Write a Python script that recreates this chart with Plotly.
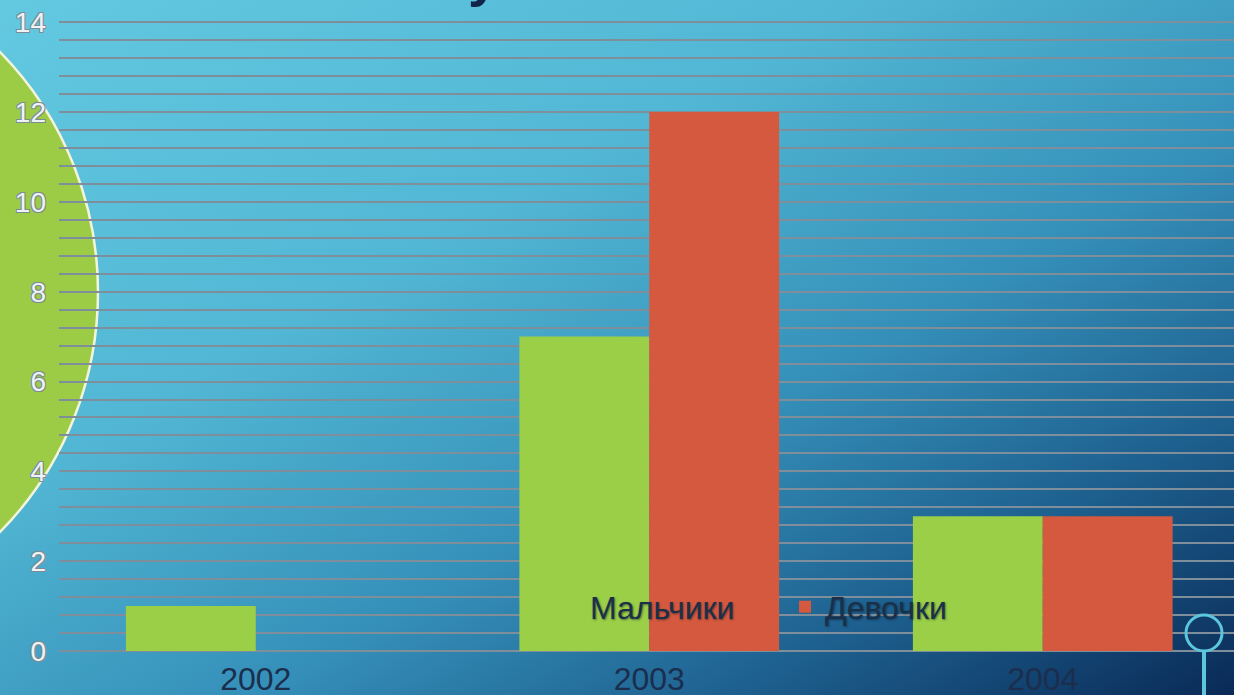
import base64
import plotly.graph_objects as go

# ---- data ----
years = ["2002", "2003", "2004"]
boys = [1, 7, 3]
girls = [0, 12, 3]
series_names = ["Мальчики", "Девочки"]
y_ticks = [0, 2, 4, 6, 8, 10, 12, 14]

# ---- geometry helpers (figure pixels -> paper) ----
W, H = 1234, 695
L, T, R, B = 59, 20, 0, 44
PW, PH = W - L - R, H - T - B


def px(x):
    return (x - L) / PW


def py(y):
    return (T + PH - y) / PH


# background: diagonal gradient + decorative green disc
svg = f"""<svg xmlns='http://www.w3.org/2000/svg' width='{W}' height='{H}' viewBox='0 0 {W} {H}' preserveAspectRatio='none'>
<defs><linearGradient id='g' x1='0' y1='0' x2='1' y2='1'>
<stop offset='0' stop-color='#63c9e1'/>
<stop offset='0.35' stop-color='#52b7d4'/>
<stop offset='0.6' stop-color='#3590b9'/>
<stop offset='0.8' stop-color='#1d5f8e'/>
<stop offset='1' stop-color='#0a2a56'/>
</linearGradient></defs>
<rect width='{W}' height='{H}' fill='url(#g)'/>
<circle cx='-245' cy='292' r='343' fill='#9ccc45' stroke='#f4f4dc' stroke-width='2.5'/>
</svg>"""
svg_uri = "data:image/svg+xml;base64," + base64.b64encode(svg.encode()).decode()

fig = go.Figure()
fig.add_trace(go.Bar(
    x=years, y=boys, name=series_names[0],
    marker=dict(color="#9bcf47", line=dict(width=0)),
))
fig.add_trace(go.Bar(
    x=years, y=girls, name=series_names[1],
    marker=dict(color="#d5593e", line=dict(width=0)),
))

grid_col = "rgb(126,142,154)"

fig.update_layout(
    width=W, height=H,
    margin=dict(l=L, r=R, t=T, b=B, pad=0, autoexpand=False),
    paper_bgcolor="#3a9cc4",
    plot_bgcolor="rgba(0,0,0,0)",
    barmode="group",
    bargap=0.34,
    bargroupgap=0,
    showlegend=True,
    legend=dict(
        orientation="h",
        x=px(550), xanchor="left",
        y=py(607), yanchor="middle",
        bgcolor="rgba(0,0,0,0)",
        font=dict(family="Liberation Sans, Arial, sans-serif", size=32, color="#1a3049",
                  shadow="1px 1px 2px rgba(10,20,40,0.5)"),
        entrywidth=190, entrywidthmode="pixels",
        traceorder="normal",
        itemsizing="constant",
    ),
    xaxis=dict(
        type="category",
        range=[-0.5, 2.486],
        automargin=False,
        showgrid=False, zeroline=False, showline=False,
        ticks="",
        tickfont=dict(family="Liberation Sans, Arial, sans-serif", size=32, color="#1b2e4e"),
        ticklabelstandoff=6,
    ),
    yaxis=dict(
        range=[0, 14.05],
        tickvals=y_ticks,
        automargin=False,
        ticks="",
        showgrid=True, gridcolor=grid_col, gridwidth=2,
        zeroline=True, zerolinecolor=grid_col, zerolinewidth=2,
        showline=False,
        minor=dict(dtick=0.4, showgrid=True, gridcolor=grid_col, gridwidth=2),
        tickfont=dict(family="Liberation Sans, Arial, sans-serif", size=28, color="#eef4f6",
                      shadow="-1px -1px 0 #7d8c94, 1px -1px 0 #7d8c94, -1px 1px 0 #7d8c94, 1px 1px 0 #7d8c94"),
        ticklabelstandoff=12,
    ),
    images=[dict(
        source=svg_uri, xref="paper", yref="paper",
        x=px(0), y=py(0), sizex=W / PW, sizey=H / PH,
        xanchor="left", yanchor="top", sizing="stretch", layer="below",
    )],
    shapes=[
        dict(type="circle", xref="paper", yref="paper",
             x0=px(1186), x1=px(1222), y0=py(651), y1=py(615),
             line=dict(color="#5cc6dc", width=3), layer="above"),
        dict(type="line", xref="paper", yref="paper",
             x0=px(1204), x1=px(1204), y0=py(651), y1=py(700),
             line=dict(color="#5cc6dc", width=4), layer="above"),
    ],
    annotations=[dict(
        text="у", xref="paper", yref="paper",
        x=px(466), y=py(-24), xanchor="left", yanchor="middle",
        showarrow=False,
        font=dict(family="Liberation Sans, Arial, sans-serif", size=56, color="#13244a", weight="bold"),
    )],
)

fig.write_html(
    "out.html",
    config={"displayModeBar": False},
    post_script="document.body.style.margin='0';document.body.style.overflow='hidden';",
)
